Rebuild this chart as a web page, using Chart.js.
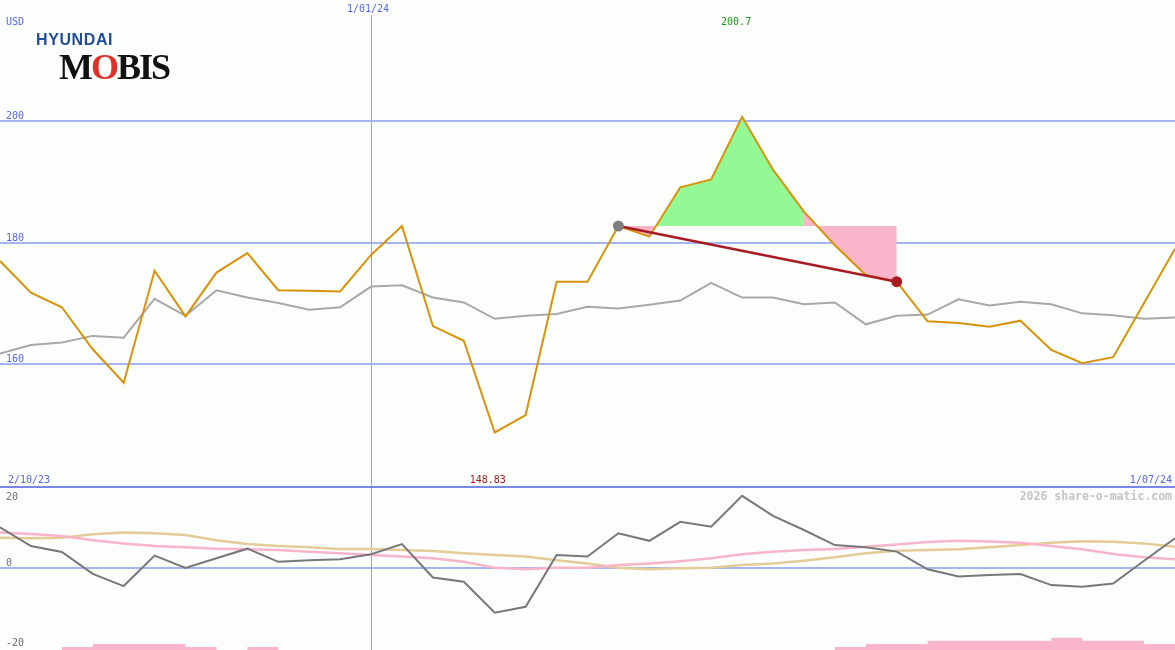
<!DOCTYPE html>
<html>
<head>
<meta charset="utf-8">
<script src="https://cdn.jsdelivr.net/npm/chart.js@4.4.1/dist/chart.umd.min.js"></script>
<style>
  body { margin: 0; background: #fcfefc; }
  #wrap { position: relative; width: 1175px; height: 650px; overflow: hidden; background: #fcfefc; }
  #main { position: absolute; left: 0; top: 0; }
  #lower { position: absolute; left: 0; top: 488px; }
  .hy { position: absolute; left: 36px; top: 31px; font: bold 16px "Liberation Sans", Arial, sans-serif; color: #1f4c9c; letter-spacing: 0.6px; }
  .mobis { position: absolute; left: 59px; top: 46px; font: bold 36px "Liberation Serif", serif; color: #111; letter-spacing: -2px; }
  .mobis span { color: #e0302a; }
</style>
</head>
<body>
<div id="wrap">
  <canvas id="main" width="1175" height="488"></canvas>
  <canvas id="lower" width="1175" height="162"></canvas>
  <div class="hy">HYUNDAI</div>
  <div class="mobis">M<span>O</span>BIS</div>
</div>
<script>
// weekly closes, 9/10/23 .. 1/07/24
const weeks = ['9/10/23', '16/10/23', '23/10/23', '30/10/23', '6/11/23', '13/11/23', '20/11/23', '27/11/23',
  '4/12/23', '11/12/23', '18/12/23', '25/12/23', '1/01/24', '8/01/24', '15/01/24', '22/01/24', '29/01/24',
  '5/02/24', '12/02/24', '19/02/24', '26/02/24', '4/03/24', '11/03/24', '18/03/24', '25/03/24', '1/04/24',
  '8/04/24', '15/04/24', '22/04/24', '29/04/24', '6/05/24', '13/05/24', '20/05/24', '27/05/24', '3/06/24',
  '10/06/24', '17/06/24', '24/06/24', '1/07/24'];

const price = [177.0, 171.8, 169.4, 162.5, 157.0, 175.4, 167.9, 175.1, 178.3, 172.2, 172.1, 172.0, 178.0,
  182.75, 166.3, 163.9, 148.83, 151.7, 173.6, 173.6, 182.75, 181.0, 189.1, 190.4, 200.7, 192.0, 185.1,
  179.6, 174.7, 173.6, 167.1, 166.8, 166.2, 167.2, 162.4, 160.2, 161.2, 170.1, 179.0];

const avg = [161.8, 163.2, 163.6, 164.7, 164.4, 170.8, 168.0, 172.2, 171.0, 170.1, 169.0, 169.4, 172.8,
  173.0, 171.0, 170.2, 167.5, 168.0, 168.3, 169.5, 169.2, 169.8, 170.5, 173.4, 171.0, 171.0, 169.9,
  170.2, 166.6, 168.0, 168.2, 170.7, 169.7, 170.3, 169.9, 168.4, 168.1, 167.5, 167.7];

const momentum = [12.3, 6.6, 4.8, -1.9, -5.6, 3.7, -0.1, 2.9, 5.8, 1.8, 2.3, 2.6, 4.1, 7.2, -3.0, -4.3,
  -13.7, -11.9, 3.9, 3.4, 10.5, 8.2, 14.0, 12.5, 21.9, 15.8, 11.5, 6.9, 6.2, 4.9, -0.5, -2.7, -2.2, -1.9,
  -5.3, -5.8, -4.8, 2.1, 9.0];

const pinkLine = [10.7, 10.3, 9.7, 8.4, 7.4, 6.6, 6.2, 5.8, 5.6, 5.4, 4.9, 4.4, 3.9, 3.4, 2.9, 1.8, 0.0,
  -0.5, 0.0, 0.0, 0.8, 1.3, 2.0, 2.9, 4.1, 4.9, 5.4, 5.7, 6.4, 7.1, 7.8, 8.2, 8.0, 7.6, 6.6, 5.6, 4.2,
  3.2, 2.6];

const tanLine = [9.1, 9.0, 9.1, 10.2, 10.7, 10.5, 10.0, 8.4, 7.2, 6.6, 6.2, 5.7, 5.7, 5.4, 5.1, 4.4, 3.9,
  3.4, 2.3, 1.3, 0.0, -0.5, -0.2, 0.0, 0.8, 1.3, 2.1, 3.2, 4.4, 5.2, 5.4, 5.6, 6.2, 6.9, 7.6, 8.1, 7.9,
  7.4, 6.4];

const histo = [0, 0, 1, 2, 2, 2, 1, 0, 1, 0, 0, 0, 0, 0, 0, 0, 0, 0, 0, 0, 0, 0, 0, 0, 0, 0, 0,
  1, 2, 2, 3, 3, 3, 3, 4, 3, 3, 2, 2];

const priceTicks = [160, 180, 200];
const lowerTicks = ['20', '0', '-20'];
const markerIdx = 12;      // 1/01/24
const entryIdx = 20;
const peakEnd = 26;
const exitIdx = 29;

const monoFont = '10px "DejaVu Sans Mono", monospace';
const blue = '#5565e5';

function only(from, to, fn) {
  return weeks.map((_, i) => (i >= from && i <= to ? fn(i) : null));
}

const level = only(entryIdx, exitIdx, () => price[entryIdx]);
const minIdx = price.indexOf(Math.min(...price));
const maxIdx = price.indexOf(Math.max(...price));

const mainPlugin = {
  id: 'mainDeco',
  beforeDatasetsDraw(chart) {
    const { ctx, scales: { x, y } } = chart;
    ctx.save();
    ctx.fillStyle = '#a4b4f4';
    priceTicks.forEach(t => {
      const py = Math.round(y.getPixelForValue(t));
      ctx.fillRect(0, py - 1, chart.width, 2);
    });
    ctx.fillStyle = '#90a2ff';
    ctx.fillRect(Math.round(x.getPixelForValue(markerIdx)), 15, 1, chart.height);
    ctx.restore();
  },
  afterDraw(chart) {
    const { ctx, scales: { x, y } } = chart;
    ctx.save();
    ctx.fillStyle = '#7888e8';
    ctx.fillRect(0, chart.height - 2, chart.width, 2);
    ctx.font = monoFont;
    ctx.fillStyle = blue;
    ctx.textAlign = 'left';
    ctx.fillText('USD', 6, 25);
    priceTicks.forEach(t => ctx.fillText(String(t), 6, y.getPixelForValue(t) - 2));
    ctx.fillText('2/10/23', 8, 483);
    ctx.textAlign = 'right';
    ctx.fillText(weeks[weeks.length - 1], 1172, 483);
    ctx.textAlign = 'center';
    ctx.fillText(weeks[markerIdx], x.getPixelForValue(markerIdx) - 3, 12);
    ctx.fillStyle = '#189818';
    ctx.fillText(String(price[maxIdx]), x.getPixelForValue(maxIdx) - 6, 25);
    ctx.fillStyle = '#a01818';
    ctx.fillText(price[minIdx].toFixed(2), x.getPixelForValue(minIdx) - 7, 483);
    ctx.restore();
  }
};

new Chart(document.getElementById('main'), {
  type: 'line',
  data: {
    labels: weeks,
    datasets: [
      { // 0: entry level used as fill target
        data: level, borderColor: 'rgba(0,0,0,0)', borderWidth: 1, pointRadius: 0, fill: false, order: 9
      },
      { // 1: gain area
        data: only(entryIdx, peakEnd, i => price[i]), borderColor: 'rgba(0,0,0,0)', borderWidth: 1,
        pointRadius: 0, fill: { target: 0, above: '#94f894', below: '#f9b5c9' }, order: 8
      },
      { // 2: give-back area
        data: only(peakEnd, exitIdx, i => price[i]), borderColor: 'rgba(0,0,0,0)', borderWidth: 1,
        pointRadius: 0, fill: { target: 0, above: '#f9b5c9', below: '#f9b5c9' }, order: 7
      },
      {
        data: avg, borderColor: '#a8a8a8', borderWidth: 2, pointRadius: 0, order: 5
      },
      {
        data: price, borderColor: '#d8930a', borderWidth: 2, pointRadius: 0, order: 4
      },
      {
        data: weeks.map((_, i) => (i === entryIdx || i === exitIdx ? price[i] : null)),
        spanGaps: true, borderColor: '#a81c24', borderWidth: 2.5, pointRadius: 0, order: 3
      },
      {
        data: only(entryIdx, entryIdx, i => price[i]), showLine: false, pointRadius: 5.5,
        pointBackgroundColor: '#808080', pointBorderWidth: 0, order: 2
      },
      {
        data: only(exitIdx, exitIdx, i => price[i]), showLine: false, pointRadius: 5.5,
        pointBackgroundColor: '#a81c24', pointBorderWidth: 0, order: 1
      }
    ]
  },
  options: {
    responsive: false,
    animation: false,
    devicePixelRatio: 1,
    layout: { padding: 0, autoPadding: false },
    plugins: { legend: { display: false }, tooltip: { enabled: false } },
    elements: { line: { tension: 0 } },
    scales: {
      x: { type: 'category', display: false, offset: false },
      y: { display: false, min: 139.71, max: 219.88 }
    }
  },
  plugins: [mainPlugin]
});

const lowerPlugin = {
  id: 'lowerDeco',
  beforeDatasetsDraw(chart) {
    const { ctx, scales: { x, y } } = chart;
    ctx.save();
    ctx.fillStyle = '#a4b4f4';
    ctx.fillRect(0, Math.round(y.getPixelForValue(0)) - 1, chart.width, 2);
    ctx.fillStyle = '#90a2ff';
    ctx.fillRect(Math.round(x.getPixelForValue(markerIdx)), 0, 1, chart.height);
    ctx.restore();
  },
  afterDraw(chart) {
    const { ctx, scales: { y } } = chart;
    ctx.save();
    ctx.font = monoFont;
    ctx.fillStyle = '#707070';
    ctx.textAlign = 'left';
    ctx.fillText(lowerTicks[0], 6, y.getPixelForValue(20) - 2);
    ctx.fillText(lowerTicks[1], 6, y.getPixelForValue(0) - 2);
    ctx.fillText(lowerTicks[2], 6, chart.height - 4);
    ctx.font = 'bold 11.5px "DejaVu Sans Mono", monospace';
    ctx.fillStyle = '#c4c4c4';
    ctx.textAlign = 'right';
    ctx.fillText('2026 share-o-matic.com', 1172, 12);
    ctx.restore();
  }
};

new Chart(document.getElementById('lower'), {
  type: 'line',
  data: {
    labels: weeks,
    datasets: [
      {
        data: histo, yAxisID: 'yb', stepped: 'before', borderColor: 'rgba(0,0,0,0)', borderWidth: 1,
        backgroundColor: '#f9b5c9', fill: 'origin', pointRadius: 0, order: 9
      },
      { data: tanLine, borderColor: '#e4cc98', borderWidth: 2.5, pointRadius: 0, order: 4 },
      { data: pinkLine, borderColor: '#f8b4c8', borderWidth: 2.5, pointRadius: 0, order: 3 },
      { data: momentum, borderColor: '#787878', borderWidth: 2, pointRadius: 0, order: 1 }
    ]
  },
  options: {
    responsive: false,
    animation: false,
    devicePixelRatio: 1,
    layout: { padding: 0, autoPadding: false },
    plugins: { legend: { display: false }, tooltip: { enabled: false } },
    elements: { line: { tension: 0 } },
    scales: {
      x: { type: 'category', display: false, offset: false },
      y: { display: false, min: -25.09, max: 24.3 },
      yb: { display: false, min: 0, max: 53 }
    }
  },
  plugins: [lowerPlugin]
});
</script>
</body>
</html>
